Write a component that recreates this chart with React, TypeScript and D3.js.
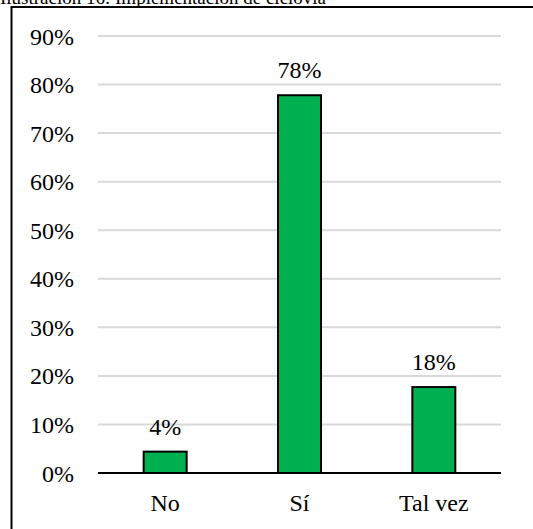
import React from "react";
import * as d3 from "d3";

const categories = ["No", "Sí", "Tal vez"];
const values = [0.044, 0.778, 0.177];
const valueLabels = ["4%", "78%", "18%"];
const yTicks = [0, 0.1, 0.2, 0.3, 0.4, 0.5, 0.6, 0.7, 0.8, 0.9];
const title = "Ilustración 16: Implementación de ciclovía";
const FONT = "Liberation Serif";

export default function App() {
  const W = 533, H = 529;
  const left = 98, right = 501, top = 36, bottom = 473;
  const x = d3.scaleBand().domain(categories).range([left, right]).paddingInner(0.68).paddingOuter(0.34);
  const y = d3.scaleLinear().domain([0, 0.9]).range([bottom, top]);
  const fmt = d3.format(".0%");
  return (
    <div style={{ position: "absolute", left: 0, top: 0, width: W, height: H, fontFamily: FONT }}>
      <svg width={W} height={H} style={{ display: "block", fontFamily: FONT }}>
        <rect x={0} y={0} width={W} height={H} fill="#fff" />
        <text x={0} y={4} fontSize={19} fill="#000" fontFamily={FONT} style={{ fontFamily: FONT }}>{title}</text>
        <rect x={11.5} y={7} width={W + 10} height={H + 10} fill="none" stroke="#000" strokeWidth={2} />
        {yTicks.map((t) => (
          <g key={t}>
            {t > 0 && <line x1={left} x2={right} y1={y(t)} y2={y(t)} stroke="#d9d9d9" strokeWidth={2} />}
            <text x={74} y={y(t) + 8.5} textAnchor="end" fontSize={24} fill="#000" fontFamily={FONT} style={{ fontFamily: FONT }}>{fmt(t)}</text>
          </g>
        ))}
        {categories.map((c, i) => (
          <g key={c}>
            <rect x={x(c)} y={y(values[i])} width={x.bandwidth()} height={y(0) - y(values[i])} fill="#00b050" stroke="#000" strokeWidth={2} />
            <text x={x(c) + x.bandwidth() / 2} y={y(values[i]) - 17} textAnchor="middle" fontSize={24} fill="#000" fontFamily={FONT} style={{ fontFamily: FONT }}>{valueLabels[i]}</text>
            <text x={x(c) + x.bandwidth() / 2} y={511} textAnchor="middle" fontSize={24} fill="#000" fontFamily={FONT} style={{ fontFamily: FONT }}>{c}</text>
          </g>
        ))}
        <line x1={left} x2={right} y1={y(0)} y2={y(0)} stroke="#000" strokeWidth={2} />
      </svg>
    </div>
  );
}
